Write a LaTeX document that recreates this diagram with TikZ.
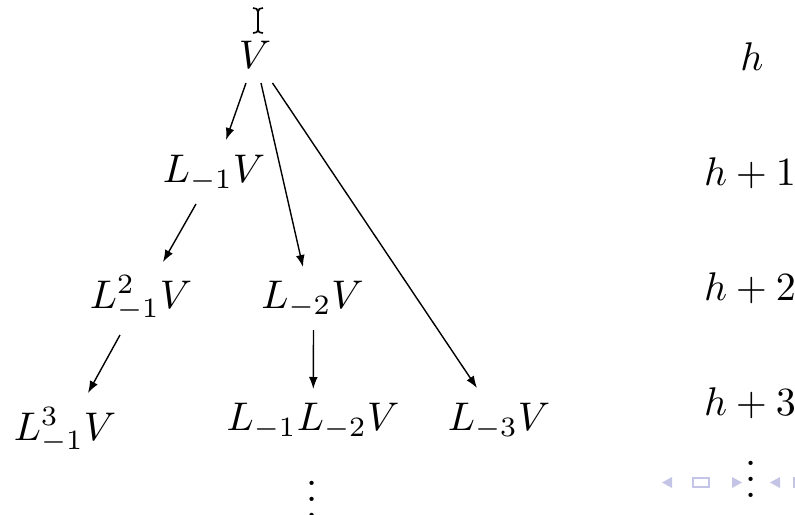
\documentclass[tikz,border=0pt]{standalone}
\usetikzlibrary{arrows.meta,calc}
\definecolor{navc}{RGB}{196,196,230}
\begin{document}
\begin{tikzpicture}[x=0.25pt,y=-0.25pt,
  lbl/.style={anchor=base,inner sep=0pt},
  arr/.style={line width=0.35pt,-{Latex[length=3pt,width=2.2pt]}},
  cursorline/.style={line width=0.4pt}]
\useasboundingbox (0,0) rectangle (795,515);
% tree nodes
\node[lbl] (V)    at (255,68)  {$V$};
\node[lbl] (L1)   at (214,182) {$L_{-1}V$};
\node[lbl] (L11)  at (141,308) {$L^2_{-1}V$};
\node[lbl] (L2)   at (312.5,308) {$L_{-2}V$};
\node[lbl] (L111) at (65,440)  {$L^3_{-1}V$};
\node[lbl] (L12)  at (313,430) {$L_{-1}L_{-2}V$};
\node[lbl] (L3)   at (499,430) {$L_{-3}V$};
\node[lbl] (dotsA) at (312,517) {$\vdots$};
% level labels
\node[lbl] (h0) at (752,70)  {$h$};
\node[lbl] (h1) at (750,185) {$h+1$};
\node[lbl] (h2) at (750,300) {$h+2$};
\node[lbl] (h3) at (750,415) {$h+3$};
\node[lbl] (dotsB) at (751,497) {$\vdots$};
% arrows
\draw[arr] ($(V.base)+(-9,15)$)   -- ($(L1.base)+(12,-42)$);
\draw[arr] ($(V.base)+(6,15)$)    -- ($(L2.base)+(-9.5,-41)$);
\draw[arr] ($(V.base)+(17.5,15)$) -- ($(L3.base)+(-22,-42)$);
\draw[arr] ($(L1.base)+(-18,22)$) -- ($(L11.base)+(22,-46)$);
\draw[arr] ($(L11.base)+(-21,27)$) -- ($(L111.base)+(23,-47)$);
\draw[arr] ($(L2.base)+(1,22)$)   -- ($(L12.base)+(0.3,-41)$);
% mouse cursor (I-beam)
\draw[cursorline] (253,8) .. controls (256,8) and (258,9) .. (258,12) -- (258,30)
  .. controls (258,32) and (256,33) .. (253,33);
\draw[cursorline] (263,8) .. controls (260,8) and (258,9) .. (258,12);
\draw[cursorline] (258,30) .. controls (258,32) and (260,33) .. (263,33);
% beamer navigation symbols
\fill[navc] (672,477) -- (662,482.5) -- (672,488) -- cycle;
\draw[navc,line width=0.45pt] (693,478) rectangle (709,487);
\fill[navc] (732,477) -- (742,482.5) -- (732,488) -- cycle;
\fill[navc] (780,477) -- (770,482.5) -- (780,488) -- cycle;
\draw[navc,line width=0.45pt] (794,478) rectangle (810,487);
\end{tikzpicture}
\end{document}
